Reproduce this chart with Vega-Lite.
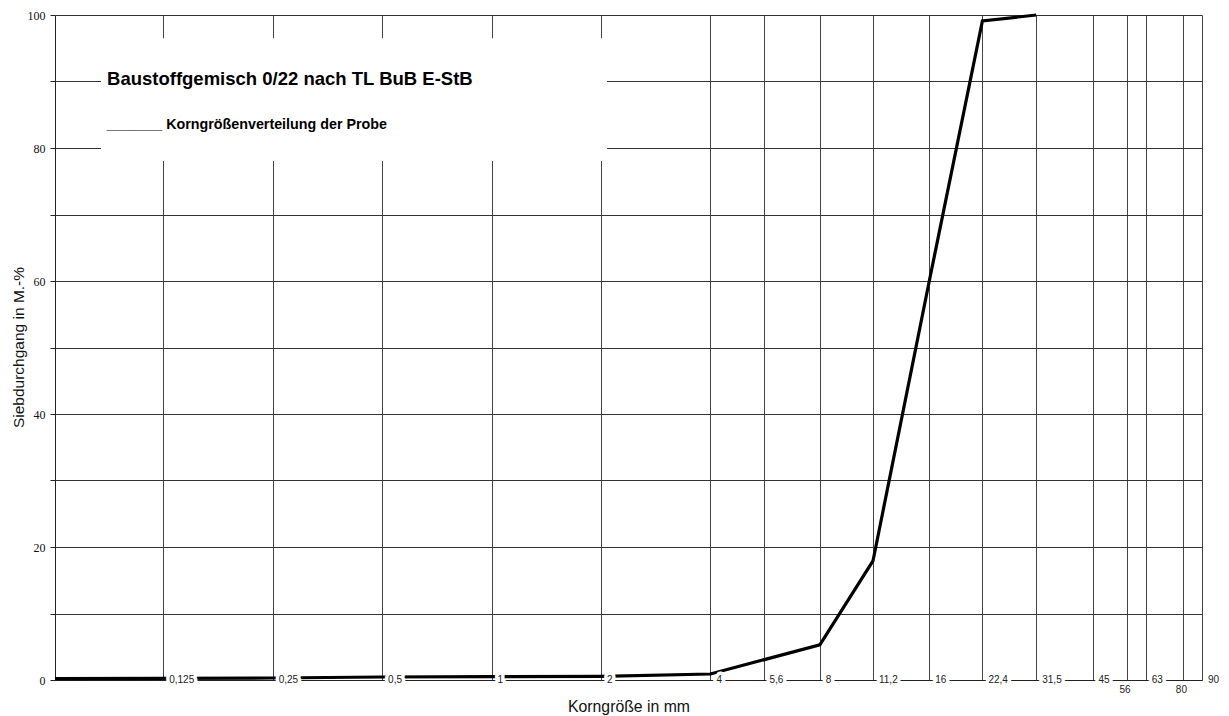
{
  "$schema": "https://vega.github.io/schema/vega-lite/v6.json",
  "width": 1147,
  "height": 665,
  "autosize": {"type": "none"},
  "padding": {"left": 55, "top": 15, "right": 27, "bottom": 36},
  "background": "white",
  "config": {"view": {"stroke": null}},
  "datasets": {
    "curve": [
      {"size": 0.063, "pass": 0.2},
      {"size": 0.125, "pass": 0.25},
      {"size": 0.25, "pass": 0.3},
      {"size": 0.5, "pass": 0.45},
      {"size": 1, "pass": 0.5},
      {"size": 2, "pass": 0.55},
      {"size": 4, "pass": 0.9},
      {"size": 8, "pass": 5.3},
      {"size": 11.2, "pass": 17.9},
      {"size": 16, "pass": 60},
      {"size": 22.4, "pass": 99.1},
      {"size": 31.5, "pass": 100}
    ],
    "sieves": [
      {"size": 0.125, "label": "0,125", "row": "upper"},
      {"size": 0.25, "label": "0,25", "row": "upper"},
      {"size": 0.5, "label": "0,5", "row": "upper"},
      {"size": 1, "label": "1", "row": "upper"},
      {"size": 2, "label": "2", "row": "upper"},
      {"size": 4, "label": "4", "row": "upper"},
      {"size": 5.6, "label": "5,6", "row": "upper"},
      {"size": 8, "label": "8", "row": "upper"},
      {"size": 11.2, "label": "11,2", "row": "upper"},
      {"size": 16, "label": "16", "row": "upper"},
      {"size": 22.4, "label": "22,4", "row": "upper"},
      {"size": 31.5, "label": "31,5", "row": "upper"},
      {"size": 45, "label": "45", "row": "upper"},
      {"size": 56, "label": "56", "row": "lower"},
      {"size": 63, "label": "63", "row": "upper"},
      {"size": 80, "label": "80", "row": "lower"},
      {"size": 90, "label": "90", "row": "upper"}
    ]
  },
  "layer": [
    {
      "data": {"values": [{}]},
      "mark": {"type": "rect", "fill": "white", "stroke": null},
      "encoding": {
        "x": {
          "datum": 0.0843,
          "type": "quantitative",
          "scale": {"type": "log", "domain": [0.063, 90], "nice": false},
          "axis": {
            "values": [0.125, 0.25, 0.5, 1, 2, 4, 5.6, 8, 11.2, 16, 22.4, 31.5, 45, 56, 63, 80, 90],
            "labels": false,
            "ticks": false,
            "domain": true,
            "domainColor": "#222",
            "domainWidth": 1,
            "grid": true,
            "gridColor": "#444",
            "gridWidth": 1,
            "gridOpacity": 1,
            "title": "Korngröße in mm",
            "titleFont": "Liberation Sans",
            "titleFontSize": 15.8,
            "titleFontWeight": "normal",
            "titleColor": "#111",
            "titleBaseline": "alphabetic",
            "titleY": 31
          }
        },
        "x2": {"datum": 2.078},
        "y": {
          "datum": 78.05,
          "type": "quantitative",
          "scale": {"domain": [0, 100], "nice": false},
          "axis": {
            "values": [0, 10, 20, 30, 40, 50, 60, 70, 80, 90, 100],
            "labelExpr": "datum.value % 20 == 0 ? datum.label : ''",
            "labelFont": "Liberation Serif",
            "labelFontSize": 12,
            "labelColor": "#111",
            "labelPadding": 5,
            "ticks": true,
            "tickSize": 5,
            "tickColor": "#222",
            "domain": true,
            "domainColor": "#222",
            "grid": true,
            "gridColor": "#333",
            "gridWidth": 1,
            "gridOpacity": 1,
            "title": "Siebdurchgang in M.-%",
            "titleFont": "Liberation Sans",
            "titleFontSize": 15.5,
            "titleFontWeight": "normal",
            "titleColor": "#111",
            "titleBaseline": "alphabetic",
            "titleX": -32,
            "titleY": 332
          }
        },
        "y2": {"datum": 96.5}
      }
    },
    {
      "data": {"name": "curve"},
      "mark": {"type": "line", "color": "black", "strokeWidth": 3.2, "strokeJoin": "miter"},
      "encoding": {
        "x": {"field": "size", "type": "quantitative"},
        "y": {"field": "pass", "type": "quantitative"}
      }
    },
    {
      "data": {"name": "sieves"},
      "transform": [{"filter": "datum.row == 'upper'"}],
      "mark": {"type": "text", "align": "left", "baseline": "middle", "dx": 6, "font": "Liberation Sans", "fontSize": 10, "fill": "white", "stroke": "white", "strokeWidth": 7, "strokeJoin": "round"},
      "encoding": {
        "x": {"field": "size", "type": "quantitative"},
        "y": {"datum": 0},
        "text": {"field": "label"}
      }
    },
    {
      "data": {"name": "sieves"},
      "transform": [{"filter": "datum.row == 'upper'"}],
      "mark": {"type": "text", "align": "left", "baseline": "middle", "dx": 6, "font": "Liberation Sans", "fontSize": 10, "fill": "#222"},
      "encoding": {
        "x": {"field": "size", "type": "quantitative"},
        "y": {"datum": 0},
        "text": {"field": "label"}
      }
    },
    {
      "data": {"name": "sieves"},
      "transform": [{"filter": "datum.row == 'lower'"}],
      "mark": {"type": "text", "align": "center", "baseline": "middle", "dx": -2, "dy": 10, "font": "Liberation Sans", "fontSize": 10, "fill": "#222"},
      "encoding": {
        "x": {"field": "size", "type": "quantitative"},
        "y": {"datum": 0},
        "text": {"field": "label"}
      }
    },
    {
      "data": {"values": [{"t": "Baustoffgemisch 0/22 nach TL BuB E-StB"}]},
      "mark": {"type": "text", "align": "left", "baseline": "alphabetic", "font": "Liberation Sans", "fontSize": 18.5, "fontWeight": "bold", "fill": "black"},
      "encoding": {
        "x": {"datum": 0.0876},
        "y": {"datum": 89.5},
        "text": {"field": "t"}
      }
    },
    {
      "data": {"values": [{"t": "_______    Korngrößenverteilung der Probe"}]},
      "mark": {"type": "text", "align": "left", "baseline": "alphabetic", "font": "Liberation Sans", "fontSize": 14.3, "fontWeight": "bold", "fill": "black"},
      "encoding": {
        "x": {"datum": 0.0873},
        "y": {"datum": 82.8},
        "text": {"field": "t"}
      }
    }
  ]
}
